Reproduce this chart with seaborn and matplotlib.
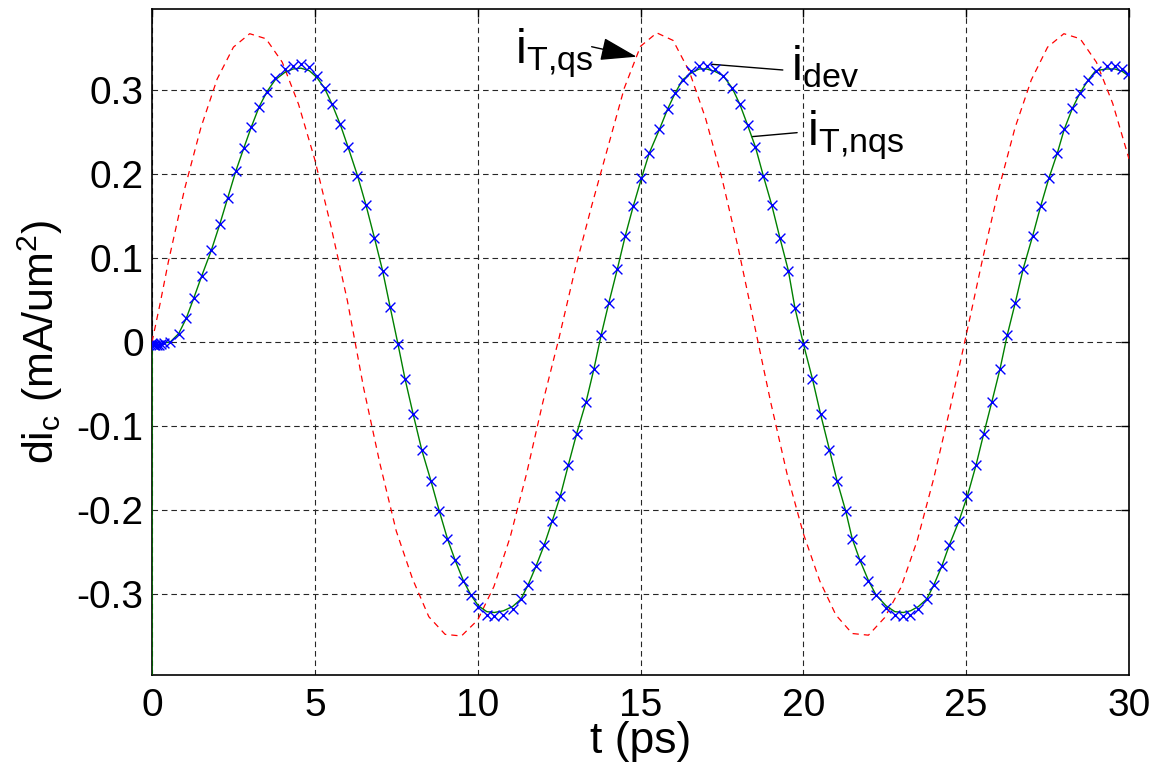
import matplotlib
matplotlib.use("Agg")
import matplotlib.pyplot as plt
import numpy as np
import pandas as pd
import seaborn as sns

# ---- data ----
t_dev = [0.00, 0.03, 0.06, 0.10, 0.15, 0.21, 0.28, 0.37, 0.56, 0.82, 1.05, 1.28, 1.53, 1.82, 2.08, 2.32,
         2.57, 2.82, 3.05, 3.29, 3.53, 3.78, 4.08, 4.33, 4.57, 4.83, 5.06, 5.30, 5.53, 5.78, 6.02, 6.31,
         6.57, 6.83, 7.08, 7.31, 7.55, 7.77, 8.02, 8.28, 8.57, 8.82, 9.07, 9.31, 9.56, 9.79, 10.02, 10.28,
         10.51, 10.79, 11.07, 11.33, 11.55, 11.79, 12.04, 12.29, 12.54, 12.78, 13.04, 13.33, 13.57, 13.79,
         14.03, 14.29, 14.53, 14.78, 15.03, 15.27, 15.58, 15.83, 16.06, 16.29, 16.55, 16.80, 17.03, 17.29,
         17.54, 17.82, 18.05, 18.29, 18.53, 18.77, 19.03, 19.28, 19.54, 19.74, 20.00, 20.28, 20.53, 20.80,
         21.04, 21.30, 21.50, 21.74, 22.00, 22.23, 22.54, 22.81, 23.07, 23.29, 23.53, 23.79, 24.01, 24.25,
         24.48, 24.78, 25.04, 25.30, 25.54, 25.79, 26.04, 26.26, 26.51, 26.75, 27.04, 27.29, 27.54, 27.80,
         28.01, 28.26, 28.49, 28.75, 28.98, 29.31, 29.57, 29.80, 29.98]

i_dev = [-0.001, -0.002, -0.003, -0.003, -0.003, -0.003, -0.002, -0.001, 0.000, 0.010, 0.028, 0.052,
         0.079, 0.109, 0.140, 0.171, 0.203, 0.231, 0.256, 0.280, 0.298, 0.314, 0.325, 0.329, 0.331, 0.327,
         0.317, 0.302, 0.283, 0.259, 0.232, 0.198, 0.163, 0.124, 0.085, 0.042, -0.002, -0.044, -0.086,
         -0.128, -0.166, -0.201, -0.234, -0.260, -0.284, -0.301, -0.316, -0.325, -0.326, -0.325, -0.318,
         -0.306, -0.289, -0.267, -0.242, -0.213, -0.183, -0.147, -0.109, -0.071, -0.032, 0.008, 0.047,
         0.087, 0.126, 0.162, 0.195, 0.225, 0.253, 0.277, 0.296, 0.312, 0.323, 0.329, 0.329, 0.325, 0.317,
         0.302, 0.283, 0.258, 0.232, 0.198, 0.163, 0.124, 0.085, 0.041, -0.002, -0.044, -0.086, -0.128,
         -0.166, -0.201, -0.234, -0.260, -0.284, -0.301, -0.317, -0.325, -0.326, -0.325, -0.318, -0.306,
         -0.289, -0.267, -0.242, -0.213, -0.183, -0.147, -0.109, -0.071, -0.032, 0.008, 0.047, 0.087, 0.126,
         0.162, 0.195, 0.225, 0.253, 0.278, 0.296, 0.312, 0.323, 0.329, 0.329, 0.325, 0.319]

# i_T,nqs on the same time points (starts with a spike far below the axis at t = 0)
t_nqs = [0.00] + t_dev
i_nqs = [-0.600,
         -0.001, -0.002, -0.003, -0.003, -0.003, -0.003, -0.002, -0.001, 0.000, 0.010, 0.028, 0.052,
         0.079, 0.109, 0.140, 0.171, 0.203, 0.231, 0.256, 0.280, 0.298, 0.312, 0.321, 0.325, 0.326, 0.323,
         0.315, 0.302, 0.283, 0.259, 0.232, 0.198, 0.163, 0.124, 0.085, 0.042, -0.002, -0.044, -0.086,
         -0.128, -0.166, -0.201, -0.234, -0.260, -0.284, -0.301, -0.314, -0.321, -0.322, -0.320, -0.315,
         -0.306, -0.289, -0.267, -0.242, -0.213, -0.183, -0.147, -0.109, -0.071, -0.032, 0.008, 0.047,
         0.087, 0.126, 0.162, 0.195, 0.225, 0.253, 0.277, 0.296, 0.312, 0.320, 0.325, 0.325, 0.322, 0.317,
         0.302, 0.283, 0.258, 0.232, 0.198, 0.163, 0.124, 0.085, 0.041, -0.002, -0.044, -0.086, -0.128,
         -0.166, -0.201, -0.234, -0.260, -0.284, -0.301, -0.314, -0.321, -0.322, -0.320, -0.315, -0.306,
         -0.289, -0.267, -0.242, -0.213, -0.183, -0.147, -0.109, -0.071, -0.032, 0.008, 0.047, 0.087, 0.126,
         0.162, 0.195, 0.225, 0.253, 0.278, 0.296, 0.312, 0.323, 0.325, 0.325, 0.322, 0.317]

t_qs = [0.0, 0.25, 0.5, 1.0, 1.5, 2.0, 2.5, 3.0, 3.5, 4.0, 4.5, 5.0, 5.5, 6.0, 6.5, 7.0, 7.5, 8.0, 8.5,
        9.0, 9.5, 10.0, 10.5, 11.0, 11.5, 12.0, 12.5, 13.0, 13.5, 14.0, 14.5, 15.0, 15.5, 16.0, 16.5,
        17.0, 17.5, 18.0, 18.5, 19.0, 19.5, 20.0, 20.5, 21.0, 21.5, 22.0, 22.5, 23.0, 23.5, 24.0, 24.5,
        25.0, 25.5, 26.0, 26.5, 27.0, 27.5, 28.0, 28.5, 29.0, 29.5, 30.0]
i_qs = [0.000, 0.046, 0.095, 0.182, 0.255, 0.313, 0.351, 0.367, 0.361, 0.333, 0.283, 0.217, 0.137,
        0.049, -0.055, -0.145, -0.225, -0.282, -0.327, -0.348, -0.350, -0.331, -0.291, -0.232, -0.157,
        -0.072, 0.005, 0.088, 0.162, 0.232, 0.302, 0.352, 0.368, 0.359, 0.322, 0.266, 0.195, 0.112,
        0.020, -0.072, -0.157, -0.228, -0.284, -0.325, -0.347, -0.349, -0.328, -0.292, -0.236, -0.163,
        -0.080, 0.008, 0.098, 0.182, 0.255, 0.312, 0.351, 0.367, 0.361, 0.333, 0.284, 0.218]

x_ticks = [0, 5, 10, 15, 20, 25, 30]
x_tick_labels = ["0", "5", "10", "15", "20", "25", "30"]
y_ticks = [-0.3, -0.2, -0.1, 0.0, 0.1, 0.2, 0.3]
y_tick_labels = ["-0.3", "-0.2", "-0.1", "0", "0.1", "0.2", "0.3"]

x_label = "t (ps)"
y_label = r"di$_c$ (mA/um$^2$)"
lbl_qs = r"$i_{T{,}qs}$"
lbl_dev = r"$i_{dev}$"
lbl_nqs = r"$i_{T{,}nqs}$"

# ---- style ----
sns.set_theme(style="white")
plt.rcParams["font.family"] = ["Liberation Sans", "DejaVu Sans"]
plt.rcParams["mathtext.default"] = "regular"
plt.rcParams["axes.unicode_minus"] = False

fig = plt.figure(figsize=(11.55, 7.64), dpi=100)
ax = fig.add_axes([152 / 1155, 89 / 764, 977 / 1155, 666 / 764])

df_qs = pd.DataFrame({"t": t_qs, "i": i_qs})
df_nqs = pd.DataFrame({"t": t_nqs, "i": i_nqs})
df_dev = pd.DataFrame({"t": t_dev, "i": i_dev})

sns.lineplot(data=df_qs, x="t", y="i", ax=ax, color="#ff0000", lw=0.9,
             estimator=None, sort=False, zorder=3)
ax.lines[-1].set_linestyle((0, (5, 4)))
sns.lineplot(data=df_nqs, x="t", y="i", ax=ax, color="#008000", lw=1.0,
             estimator=None, sort=False, zorder=4)
sns.scatterplot(data=df_dev, x="t", y="i", ax=ax, marker="x", color="#0000ff",
                s=50, linewidth=1.0, zorder=5)

ax.set_xlim(0, 30)
ax.set_ylim(-0.3964, 0.3964)
ax.set_xticks(x_ticks)
ax.set_xticklabels(x_tick_labels)
ax.set_yticks(y_ticks)
ax.set_yticklabels(y_tick_labels)

ax.grid(True, color="0.15", linestyle=(0, (5, 3.5)), lw=0.8)
ax.set_axisbelow(True)
for sp in ax.spines.values():
    sp.set_color("black")
    sp.set_linewidth(1.2)
ax.tick_params(direction="in", length=6, width=1, top=True, right=True,
               labelsize=28, colors="black")
ax.tick_params(axis="x", pad=9)
ax.tick_params(axis="y", pad=6)

ax.set_xlabel(x_label, fontsize=32, labelpad=-2, color="black")
ax.set_ylabel(y_label, fontsize=31, labelpad=8, color="black")

# annotations
ax.annotate("", xy=(14.88, 0.3396), xytext=(13.50, 0.3515),
            arrowprops=dict(arrowstyle="-|>,head_length=1.9,head_width=0.6",
                            color="black", lw=1.0, shrinkA=0, shrinkB=0))
ax.annotate("", xy=(17.18, 0.3306), xytext=(19.37, 0.3238),
            arrowprops=dict(arrowstyle="-", color="black", lw=1.0, shrinkA=0, shrinkB=0))
ax.annotate("", xy=(18.41, 0.2444), xytext=(19.81, 0.2492),
            arrowprops=dict(arrowstyle="-", color="black", lw=1.0, shrinkA=0, shrinkB=0))

ax.text(11.15, 0.3317, lbl_qs, fontsize=35, ha="left", va="baseline", color="black")
ax.text(19.62, 0.312, lbl_dev, fontsize=35, ha="left", va="baseline", color="black")
ax.text(20.10, 0.2345, lbl_nqs, fontsize=35, ha="left", va="baseline", color="black")

fig.savefig("out.png", dpi=100, facecolor="white")
